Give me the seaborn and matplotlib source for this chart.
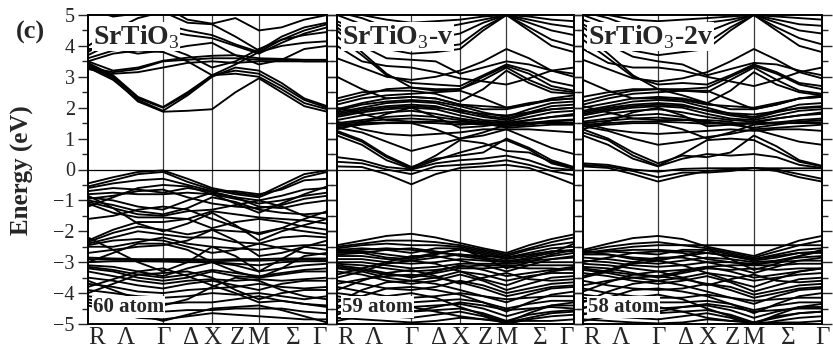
import numpy as np
import pandas as pd
import matplotlib
matplotlib.use("Agg")
import matplotlib.pyplot as plt
from matplotlib.ticker import MultipleLocator
import seaborn as sns

sns.set_style("ticks")
plt.rcParams["font.family"] = ["Liberation Serif", "DejaVu Serif"]
plt.rcParams["mathtext.fontset"] = "custom"
plt.rcParams["mathtext.rm"] = "Liberation Serif"
plt.rcParams["mathtext.bf"] = "Liberation Serif:bold"

# k-path sample positions: R, Λ1, Λ2, Γ, Δ, X, Z, M, Σ1, Σ2, Γ
k_points = [0.0, 0.105, 0.209, 0.314, 0.4165, 0.519, 0.617, 0.715, 0.810, 0.905, 1.0]
k_ticks = [0.0, 0.157, 0.314, 0.43, 0.519, 0.625, 0.715, 0.8575, 1.0]
k_labels = ["R", "Λ", "Γ", "Δ", "X", "Z", "M", "Σ", "Γ"]
sym_lines = [0.314, 0.519, 0.715]

panel_titles = ["SrTiO$_3$", "SrTiO$_3$-v", "SrTiO$_3$-2v"]
panel_atoms = ["60 atom", "59 atom", "58 atom"]

# ---------------- Panel 1: SrTiO3 (60 atom) ----------------
p1_cb = [
    [3.35, 2.95, 2.20, 1.87, 1.90, 1.95, 2.50, 2.95, 2.50, 2.05, 1.87],
    [3.40, 3.00, 2.30, 2.00, 2.45, 3.05, 3.10, 3.00, 2.60, 2.15, 1.95],
    [3.45, 3.05, 2.35, 2.02, 2.50, 3.05, 3.20, 3.10, 2.70, 2.25, 2.00],
    [3.30, 2.90, 2.25, 1.90, 2.40, 3.00, 3.30, 3.20, 2.80, 2.30, 2.05],
    [3.30, 3.15, 3.25, 3.50, 3.55, 3.60, 3.60, 3.55, 3.55, 3.50, 3.50],
    [3.50, 3.20, 3.30, 3.52, 3.62, 3.68, 3.70, 3.60, 3.58, 3.55, 3.55],
    [3.50, 3.75, 3.85, 3.80, 3.50, 3.05, 3.40, 3.80, 4.00, 4.10, 4.15],
    [3.60, 3.85, 3.95, 4.00, 3.70, 3.30, 3.50, 3.90, 4.20, 4.35, 4.45],
    [3.70, 4.10, 4.40, 4.50, 4.35, 4.25, 4.00, 3.75, 4.10, 4.40, 4.60],
    [3.80, 4.30, 4.60, 4.70, 4.50, 4.35, 4.05, 3.80, 4.20, 4.50, 4.70],
    [4.00, 4.50, 4.90, 5.10, 4.75, 4.70, 4.30, 3.85, 4.30, 4.60, 4.75],
    [3.25, 3.10, 3.15, 3.30, 3.45, 3.50, 3.45, 3.50, 3.50, 3.50, 3.50],
    [5.20, 4.95, 5.05, 5.30, 4.85, 4.72, 4.90, 4.50, 4.60, 4.85, 5.00],
    [3.90, 3.90, 3.75, 3.85, 4.00, 4.10, 3.70, 3.40, 3.55, 3.90, 4.00],
]
p1_vb = [
    [-0.45, -0.25, -0.08, -0.03, -0.30, -0.60, -0.75, -0.85, -0.50, -0.15, -0.03],
    [-0.55, -0.35, -0.15, -0.08, -0.40, -0.65, -0.80, -0.90, -0.60, -0.25, -0.08],
    [-0.60, -0.45, -0.35, -0.30, -0.50, -0.70, -0.70, -0.80, -0.65, -0.35, -0.30],
    [-0.70, -0.60, -0.65, -0.75, -0.60, -0.72, -0.90, -1.00, -0.85, -0.65, -0.60],
    [-0.80, -0.75, -0.80, -0.80, -0.75, -0.80, -0.95, -1.10, -1.00, -0.85, -0.75],
    [-0.90, -1.00, -1.20, -1.30, -1.00, -0.75, -0.90, -1.20, -1.25, -1.10, -1.00],
    [-1.00, -1.15, -1.35, -1.45, -1.25, -0.90, -1.05, -1.30, -1.40, -1.45, -1.40],
    [-1.05, -1.25, -1.45, -1.50, -1.35, -1.30, -1.15, -1.00, -1.20, -1.50, -1.60],
    [-1.10, -1.40, -1.55, -1.55, -1.60, -1.35, -1.45, -1.55, -1.60, -1.65, -1.75],
    [-2.30, -1.95, -1.70, -1.70, -1.60, -1.90, -1.70, -1.60, -1.70, -1.85, -1.95],
    [-2.35, -2.05, -1.85, -1.95, -2.10, -1.95, -2.00, -2.05, -1.90, -2.00, -2.10],
    [-2.40, -2.20, -2.00, -2.10, -2.20, -2.20, -2.35, -2.40, -2.20, -2.15, -2.20],
    [-2.50, -2.50, -2.35, -2.20, -2.40, -2.50, -2.55, -2.60, -2.50, -2.45, -2.45],
    [-2.70, -2.60, -2.50, -2.45, -2.30, -1.95, -2.30, -2.80, -2.70, -2.50, -2.60],
    [-2.85, -2.88, -2.90, -2.90, -2.90, -2.92, -2.90, -2.90, -2.88, -2.88, -2.88],
    [-2.90, -2.92, -2.93, -2.95, -2.95, -2.97, -2.95, -2.95, -2.93, -2.92, -2.93],
    [-3.00, -2.97, -2.97, -2.98, -3.00, -3.00, -3.05, -3.10, -3.00, -2.97, -2.97],
    [-3.10, -3.15, -3.30, -3.45, -3.20, -3.00, -3.10, -3.30, -3.20, -3.10, -3.05],
    [-3.20, -3.30, -3.50, -3.60, -3.50, -3.30, -3.45, -3.50, -3.40, -3.30, -3.30],
    [-3.30, -3.45, -3.60, -3.70, -3.60, -3.55, -3.60, -3.55, -3.60, -3.55, -3.50],
    [-3.50, -3.60, -3.75, -3.85, -3.70, -3.60, -3.75, -3.90, -3.70, -3.60, -3.60],
    [-3.70, -3.80, -3.95, -4.00, -3.90, -3.85, -3.80, -3.70, -3.80, -3.85, -3.80],
    [-3.90, -4.00, -4.10, -4.15, -4.10, -4.00, -4.05, -4.00, -4.10, -4.20, -4.10],
    [-4.10, -4.20, -4.30, -4.35, -4.30, -4.30, -4.20, -4.10, -4.25, -4.35, -4.40],
    [-4.20, -4.40, -4.70, -4.90, -4.70, -4.50, -4.45, -4.40, -4.55, -4.75, -4.95],
    [-4.30, -4.50, -4.60, -4.60, -4.55, -4.55, -4.50, -4.50, -4.50, -4.60, -4.65],
    [-2.20, -2.60, -3.00, -3.30, -3.00, -2.50, -2.80, -3.30, -2.90, -2.50, -2.30],
    [-0.85, -1.25, -1.75, -2.00, -1.75, -1.40, -1.80, -2.30, -2.00, -1.80, -1.60],
    [-3.00, -2.70, -2.40, -2.40, -2.60, -3.00, -3.30, -3.50, -3.20, -2.80, -2.70],
    [-1.20, -0.90, -0.60, -0.50, -0.55, -0.80, -1.10, -1.40, -1.10, -0.80, -0.55],
    [-3.60, -3.90, -4.20, -4.40, -4.20, -3.80, -3.50, -3.60, -3.90, -4.10, -4.20],
    [-4.00, -3.70, -3.40, -3.35, -3.30, -3.50, -3.90, -4.20, -4.00, -3.90, -3.90],
    [-0.95, -0.85, -0.70, -0.65, -0.90, -1.10, -1.20, -1.25, -1.15, -0.95, -0.85],
    [-1.60, -1.50, -1.30, -1.20, -1.30, -1.60, -1.85, -2.10, -1.90, -1.60, -1.35],
    [-2.45, -2.30, -2.25, -2.30, -2.50, -2.70, -2.60, -2.40, -2.55, -2.70, -2.75],
    [-3.15, -3.25, -3.40, -3.50, -3.40, -3.25, -3.35, -3.45, -3.35, -3.25, -3.20],
    [-3.80, -3.55, -3.30, -3.20, -3.45, -3.75, -4.00, -4.30, -4.25, -4.35, -4.45],
    [-4.40, -4.60, -4.80, -4.85, -4.75, -4.65, -4.70, -4.75, -4.80, -4.85, -4.85],
]

# ---------------- Panel 2: SrTiO3-v (59 atom) ----------------
p2_cb = [
    [0.10, 0.08, -0.15, -0.48, -0.15, 0.05, 0.10, 0.15, 0.05, -0.20, -0.48],
    [0.25, 0.20, 0.00, -0.15, 0.10, 0.15, 0.20, 0.30, 0.15, -0.05, -0.18],
    [0.40, 0.30, 0.08, 0.00, 0.20, 0.30, 0.35, 0.45, 0.30, 0.05, -0.02],
    [1.10, 0.80, 0.30, 0.02, 0.30, 0.55, 0.75, 0.95, 0.65, 0.20, 0.02],
    [1.20, 0.90, 0.40, 0.05, 0.45, 0.95, 0.85, 0.60, 0.55, 0.25, 0.05],
    [1.25, 0.95, 0.45, 0.08, 0.35, 0.45, 0.55, 1.00, 0.70, 0.30, 0.08],
    [1.35, 1.20, 0.90, 0.60, 0.80, 1.00, 1.10, 1.30, 1.00, 0.70, 0.50],
    [1.35, 1.45, 1.50, 1.50, 1.30, 1.00, 1.20, 1.45, 1.50, 1.50, 1.50],
    [1.40, 1.50, 1.52, 1.52, 1.50, 1.45, 1.50, 1.52, 1.52, 1.52, 1.52],
    [1.50, 1.60, 1.70, 1.75, 1.70, 1.60, 1.50, 1.40, 1.45, 1.55, 1.60],
    [1.60, 1.75, 1.85, 1.90, 1.80, 1.65, 1.55, 1.50, 1.60, 1.70, 1.75],
    [1.70, 1.85, 1.95, 2.00, 1.95, 1.75, 1.60, 1.55, 1.70, 1.85, 1.90],
    [1.80, 1.95, 2.05, 2.10, 2.05, 1.85, 1.70, 1.60, 1.80, 1.95, 2.00],
    [1.85, 2.00, 2.15, 2.20, 2.15, 1.95, 1.75, 1.65, 1.85, 2.05, 2.10],
    [1.90, 2.10, 2.20, 2.25, 2.20, 2.05, 1.85, 1.70, 1.95, 2.15, 2.20],
    [1.95, 2.15, 2.30, 2.35, 2.30, 2.10, 1.95, 1.95, 2.10, 2.25, 2.30],
    [1.30, 1.50, 1.80, 2.00, 1.70, 1.35, 1.40, 1.50, 1.60, 1.70, 1.80],
    [2.00, 1.80, 1.60, 1.55, 1.55, 1.55, 1.50, 1.35, 1.40, 1.45, 1.45],
    [1.55, 1.30, 1.15, 1.10, 1.15, 1.20, 1.30, 1.30, 1.30, 1.25, 1.20],
    [2.10, 2.30, 2.40, 2.45, 2.50, 2.55, 2.30, 2.00, 2.10, 2.30, 2.40],
    [2.20, 2.40, 2.60, 2.65, 2.60, 2.60, 2.90, 3.30, 2.90, 2.60, 2.50],
    [2.30, 2.50, 2.55, 2.55, 2.45, 2.20, 2.60, 3.20, 2.80, 2.50, 2.45],
    [4.50, 3.80, 3.10, 2.65, 2.55, 2.60, 3.00, 3.35, 3.10, 2.70, 2.55],
    [4.30, 3.70, 3.05, 2.80, 2.75, 2.70, 3.05, 3.40, 3.20, 2.85, 2.70],
    [4.60, 4.00, 3.60, 3.55, 3.50, 3.10, 3.30, 3.50, 3.40, 3.20, 3.10],
    [4.70, 4.30, 3.90, 3.75, 3.80, 3.90, 4.50, 5.00, 4.50, 4.00, 3.80],
    [4.80, 4.45, 4.10, 3.90, 3.95, 4.05, 4.60, 5.00, 4.60, 4.20, 4.00],
    [5.00, 4.70, 4.35, 4.20, 4.25, 4.40, 4.75, 5.00, 4.75, 4.50, 4.35],
    [5.10, 4.90, 4.60, 4.45, 4.55, 4.70, 4.85, 5.00, 4.85, 4.70, 4.60],
    [5.20, 5.00, 4.85, 4.75, 4.80, 4.85, 4.95, 5.00, 4.95, 4.85, 4.80],
    [4.00, 3.50, 3.35, 3.30, 3.15, 2.95, 2.85, 2.75, 2.95, 3.20, 3.30],
    [3.00, 2.60, 2.30, 2.35, 2.30, 2.10, 2.05, 2.00, 2.15, 2.25, 2.30],
    [1.45, 1.55, 1.62, 1.65, 1.60, 1.50, 1.45, 1.45, 1.50, 1.58, 1.62],
    [1.75, 1.90, 2.00, 2.05, 2.00, 1.90, 1.80, 1.75, 1.85, 1.95, 2.00],
    [3.60, 3.30, 3.00, 2.90, 3.00, 3.20, 3.50, 3.90, 3.60, 3.20, 3.00],
]
p2_vb = [
    [-2.45, -2.30, -2.15, -2.08, -2.20, -2.38, -2.55, -2.70, -2.45, -2.25, -2.10],
    [-2.50, -2.40, -2.30, -2.30, -2.35, -2.45, -2.60, -2.75, -2.55, -2.35, -2.20],
    [-2.55, -2.45, -2.40, -2.45, -2.45, -2.50, -2.65, -2.80, -2.60, -2.45, -2.35],
    [-2.60, -2.55, -2.60, -2.70, -2.55, -2.55, -2.70, -2.85, -2.70, -2.55, -2.50],
    [-2.70, -2.65, -2.75, -2.85, -2.70, -2.60, -2.75, -2.90, -2.80, -2.65, -2.60],
    [-2.80, -2.80, -2.90, -2.95, -2.85, -2.75, -2.85, -2.95, -2.90, -2.80, -2.70],
    [-2.90, -2.90, -3.00, -3.05, -3.00, -2.90, -2.95, -3.00, -2.95, -2.90, -2.85],
    [-3.00, -3.00, -3.10, -3.20, -3.15, -3.05, -3.05, -3.05, -3.00, -3.00, -3.00],
    [-3.05, -3.10, -3.20, -3.30, -3.25, -3.15, -3.10, -3.10, -3.10, -3.10, -3.10],
    [-3.10, -3.20, -3.35, -3.50, -3.35, -3.20, -3.20, -3.15, -3.20, -3.20, -3.25],
    [-3.20, -3.30, -3.50, -3.60, -3.50, -3.30, -3.40, -3.60, -3.45, -3.35, -3.35],
    [-3.30, -3.40, -3.60, -3.70, -3.60, -3.40, -3.60, -3.90, -3.70, -3.50, -3.45],
    [-2.60, -2.70, -2.85, -2.90, -2.75, -2.55, -2.85, -3.20, -3.00, -2.75, -2.60],
    [-3.50, -3.30, -3.05, -2.95, -3.05, -3.30, -3.55, -3.75, -3.50, -3.30, -3.20],
    [-3.60, -3.70, -3.85, -3.90, -3.80, -3.60, -3.75, -4.00, -3.85, -3.70, -3.65],
    [-4.30, -3.90, -3.65, -3.60, -3.70, -3.90, -4.10, -4.30, -4.05, -3.85, -3.80],
    [-4.50, -4.10, -3.85, -3.80, -3.90, -4.05, -4.30, -4.60, -4.30, -4.05, -3.95],
    [-3.80, -3.95, -4.10, -4.15, -4.10, -4.00, -4.10, -4.20, -4.15, -4.10, -4.10],
    [-4.00, -4.10, -4.25, -4.30, -4.25, -4.20, -4.30, -4.50, -4.35, -4.25, -4.25],
    [-4.20, -4.30, -4.40, -4.45, -4.40, -4.35, -4.50, -4.75, -4.55, -4.40, -4.40],
    [-4.40, -4.50, -4.60, -4.60, -4.55, -4.50, -4.65, -4.90, -4.70, -4.60, -4.55],
    [-4.60, -4.70, -4.75, -4.80, -4.70, -4.60, -4.75, -5.00, -4.85, -4.75, -4.70],
    [-4.80, -4.85, -4.90, -4.95, -4.90, -4.80, -4.85, -4.90, -4.90, -4.90, -4.85],
    [-3.40, -3.20, -3.00, -2.80, -2.80, -2.95, -3.10, -3.30, -3.10, -2.90, -2.80],
    [-2.75, -2.70, -2.60, -2.55, -2.65, -2.80, -2.90, -3.00, -2.85, -2.70, -2.40],
    [-3.90, -3.60, -3.35, -3.25, -3.45, -3.70, -3.50, -3.35, -3.55, -3.60, -3.55],
    [-4.70, -4.40, -4.10, -4.00, -4.15, -4.45, -4.70, -4.95, -4.65, -4.40, -4.30],
    [-2.65, -2.60, -2.55, -2.60, -2.70, -2.75, -2.80, -2.85, -2.75, -2.65, -2.65],
    [-3.15, -3.25, -3.40, -3.45, -3.30, -3.10, -3.25, -3.45, -3.35, -3.25, -3.15],
    [-3.70, -3.55, -3.45, -3.40, -3.50, -3.65, -3.85, -4.10, -3.95, -3.80, -3.75],
    [-4.10, -4.25, -4.50, -4.60, -4.45, -4.30, -4.40, -4.55, -4.50, -4.45, -4.50],
    [-4.90, -4.75, -4.55, -4.45, -4.60, -4.75, -4.85, -4.95, -4.80, -4.65, -4.60],
]

# ---------------- Panel 3: SrTiO3-2v (58 atom) ----------------
p3_cb = [
    [0.10, 0.05, -0.15, -0.39, -0.20, -0.05, 0.00, 0.05, -0.05, -0.25, -0.39],
    [0.15, 0.10, -0.05, -0.25, -0.10, -0.10, -0.05, 0.05, 0.00, -0.15, -0.30],
    [0.20, 0.15, 0.00, -0.07, 0.02, 0.04, 0.04, 0.04, 0.04, 0.04, 0.04],
    [1.10, 0.80, 0.35, 0.10, 0.35, 0.50, 0.45, 0.50, 0.40, 0.15, 0.05],
    [1.20, 0.95, 0.45, 0.12, 0.50, 0.95, 1.00, 0.95, 0.60, 0.25, 0.10],
    [1.30, 1.00, 0.55, 0.20, 0.45, 0.40, 0.55, 1.10, 0.75, 0.30, 0.12],
    [1.40, 1.25, 1.00, 0.80, 0.90, 1.05, 1.15, 1.30, 1.10, 0.90, 0.80],
    [1.40, 1.45, 1.50, 1.50, 1.30, 1.00, 1.20, 1.45, 1.50, 1.50, 1.50],
    [1.45, 1.50, 1.55, 1.55, 1.52, 1.48, 1.50, 1.50, 1.52, 1.52, 1.53],
    [1.55, 1.65, 1.75, 1.80, 1.70, 1.55, 1.45, 1.35, 1.45, 1.55, 1.60],
    [1.65, 1.80, 1.90, 1.95, 1.85, 1.70, 1.60, 1.55, 1.65, 1.75, 1.80],
    [1.75, 1.90, 2.00, 2.05, 2.00, 1.80, 1.65, 1.60, 1.75, 1.90, 1.95],
    [1.85, 2.00, 2.10, 2.15, 2.10, 1.90, 1.75, 1.65, 1.85, 2.00, 2.05],
    [1.90, 2.05, 2.20, 2.25, 2.20, 2.00, 1.80, 1.70, 1.90, 2.10, 2.15],
    [2.00, 2.15, 2.30, 2.35, 2.30, 2.15, 1.95, 1.95, 2.10, 2.30, 2.35],
    [1.30, 1.55, 1.85, 2.00, 1.75, 1.40, 1.45, 1.50, 1.65, 1.75, 1.85],
    [2.05, 1.85, 1.65, 1.60, 1.60, 1.60, 1.55, 1.30, 1.35, 1.40, 1.45],
    [1.50, 1.30, 1.20, 1.15, 1.20, 1.25, 1.30, 1.25, 1.30, 1.30, 1.25],
    [2.10, 2.30, 2.45, 2.50, 2.55, 2.55, 2.25, 1.95, 2.10, 2.30, 2.40],
    [2.20, 2.40, 2.55, 2.60, 2.55, 2.50, 2.90, 3.30, 2.90, 2.55, 2.45],
    [2.35, 2.50, 2.60, 2.60, 2.40, 2.15, 2.55, 3.15, 2.75, 2.50, 2.40],
    [4.40, 3.75, 3.05, 2.60, 2.60, 2.65, 3.00, 3.35, 3.10, 2.75, 2.60],
    [4.20, 3.60, 3.00, 2.75, 2.80, 2.75, 3.05, 3.40, 3.15, 2.80, 2.70],
    [4.60, 4.05, 3.65, 3.50, 3.40, 3.05, 3.25, 3.45, 3.40, 3.20, 3.05],
    [4.70, 4.25, 3.85, 3.70, 3.80, 3.90, 4.50, 5.00, 4.50, 4.00, 3.80],
    [4.85, 4.50, 4.10, 3.90, 4.00, 4.10, 4.60, 5.00, 4.60, 4.25, 4.05],
    [5.00, 4.70, 4.35, 4.20, 4.30, 4.45, 4.75, 5.00, 4.75, 4.50, 4.40],
    [5.10, 4.90, 4.60, 4.50, 4.60, 4.75, 4.85, 5.00, 4.85, 4.70, 4.65],
    [5.20, 5.00, 4.85, 4.80, 4.85, 4.90, 4.95, 5.00, 4.95, 4.90, 4.85],
    [3.90, 3.45, 3.30, 3.30, 3.20, 3.00, 2.85, 2.70, 2.90, 3.15, 3.30],
    [2.90, 2.55, 2.30, 2.30, 2.25, 2.10, 2.05, 2.00, 2.15, 2.30, 2.35],
    [1.50, 1.58, 1.65, 1.68, 1.62, 1.52, 1.48, 1.48, 1.52, 1.60, 1.65],
    [1.80, 1.95, 2.05, 2.10, 2.05, 1.92, 1.82, 1.78, 1.88, 1.98, 2.02],
    [3.55, 3.25, 2.95, 2.85, 2.95, 3.15, 3.50, 3.90, 3.55, 3.15, 2.95],
]
p3_vb = [
    [-2.60, -2.40, -2.22, -2.15, -2.25, -2.50, -2.65, -2.80, -2.55, -2.30, -2.15],
    [-2.70, -2.60, -2.50, -2.45, -2.45, -2.45, -2.45, -2.45, -2.45, -2.45, -2.45],
    [-2.65, -2.50, -2.40, -2.35, -2.45, -2.55, -2.70, -2.85, -2.65, -2.45, -2.30],
    [-2.70, -2.65, -2.70, -2.75, -2.60, -2.60, -2.75, -2.90, -2.75, -2.60, -2.55],
    [-2.75, -2.75, -2.85, -2.90, -2.80, -2.70, -2.80, -2.95, -2.85, -2.70, -2.65],
    [-2.85, -2.90, -3.00, -3.05, -2.95, -2.85, -2.90, -3.00, -2.95, -2.85, -2.80],
    [-2.95, -3.00, -3.10, -3.15, -3.10, -3.00, -3.00, -3.05, -3.00, -2.95, -2.95],
    [-3.05, -3.10, -3.20, -3.30, -3.25, -3.15, -3.10, -3.10, -3.10, -3.05, -3.05],
    [-3.15, -3.20, -3.35, -3.50, -3.35, -3.20, -3.25, -3.20, -3.25, -3.20, -3.20],
    [-3.25, -3.35, -3.50, -3.60, -3.50, -3.35, -3.45, -3.60, -3.50, -3.40, -3.35],
    [-3.35, -3.45, -3.60, -3.70, -3.60, -3.45, -3.65, -3.95, -3.75, -3.55, -3.50],
    [-2.65, -2.75, -2.90, -2.95, -2.80, -2.60, -2.90, -3.25, -3.05, -2.80, -2.65],
    [-3.50, -3.30, -3.05, -2.95, -3.10, -3.35, -3.60, -3.80, -3.55, -3.30, -3.20],
    [-3.60, -3.75, -3.85, -3.90, -3.85, -3.70, -3.80, -4.05, -3.90, -3.75, -3.70],
    [-4.30, -3.95, -3.70, -3.60, -3.75, -3.95, -4.15, -4.35, -4.10, -3.90, -3.85],
    [-4.50, -4.15, -3.90, -3.85, -3.95, -4.10, -4.35, -4.65, -4.35, -4.10, -4.00],
    [-3.85, -4.00, -4.10, -4.15, -4.15, -4.05, -4.15, -4.25, -4.20, -4.15, -4.15],
    [-4.05, -4.15, -4.25, -4.30, -4.30, -4.25, -4.35, -4.55, -4.40, -4.30, -4.30],
    [-4.25, -4.35, -4.45, -4.50, -4.45, -4.40, -4.55, -4.80, -4.60, -4.45, -4.45],
    [-4.45, -4.55, -4.65, -4.65, -4.60, -4.55, -4.70, -4.95, -4.75, -4.65, -4.60],
    [-4.65, -4.75, -4.80, -4.85, -4.75, -4.65, -4.80, -5.05, -4.90, -4.80, -4.75],
    [-4.85, -4.90, -4.95, -4.98, -4.95, -4.85, -4.90, -4.95, -4.95, -4.95, -4.90],
    [-3.45, -3.25, -3.00, -2.85, -2.85, -3.00, -3.15, -3.35, -3.15, -2.95, -2.85],
    [-3.95, -3.65, -3.40, -3.30, -3.50, -3.75, -3.55, -3.40, -3.60, -3.65, -3.60],
    [-4.70, -4.45, -4.15, -4.05, -4.20, -4.50, -4.75, -5.00, -4.70, -4.45, -4.35],
    [-3.00, -2.85, -2.70, -2.65, -2.70, -2.90, -3.00, -3.10, -2.95, -2.80, -2.60],
    [-2.70, -2.65, -2.60, -2.60, -2.65, -2.70, -2.80, -2.90, -2.80, -2.70, -2.70],
    [-3.20, -3.30, -3.40, -3.45, -3.30, -3.15, -3.30, -3.50, -3.40, -3.30, -3.20],
    [-3.75, -3.60, -3.50, -3.45, -3.55, -3.70, -3.90, -4.15, -4.00, -3.85, -3.80],
    [-4.15, -4.30, -4.50, -4.60, -4.45, -4.35, -4.45, -4.60, -4.55, -4.50, -4.50],
    [-4.90, -4.75, -4.55, -4.45, -4.60, -4.80, -4.90, -4.95, -4.80, -4.65, -4.60],
]

panels_bands = [p1_cb + p1_vb, p2_cb + p2_vb, p3_cb + p3_vb]


def to_frame(bands):
    rows = []
    for b, energies in enumerate(bands):
        for k, e in zip(k_points, energies):
            rows.append({"k": k, "E": e, "band": b})
    return pd.DataFrame(rows)


fig = plt.figure(figsize=(8.33, 3.53), dpi=100)
W, H = 833.0, 353.0
bottom = 1 - 324 / H
height = (324 - 15) / H
lefts = [88, 337, 583]
rights = [327, 574, 822]

for i in range(3):
    ax = fig.add_axes([lefts[i] / W, bottom, (rights[i] - lefts[i]) / W, height])
    df = to_frame(panels_bands[i])
    sns.lineplot(data=df, x="k", y="E", units="band", estimator=None,
                 color="black", lw=1.35, ax=ax, legend=False, sort=False)
    for xv in sym_lines:
        ax.axvline(xv, color="#3a3a3a", lw=0.9, zorder=1)
    ax.axhline(0, color="black", lw=0.9, zorder=1)
    ax.set_xlim(0, 1)
    ax.set_ylim(-5, 5)
    ax.set_xlabel("")
    ax.set_ylabel("")
    ax.set_xticks(k_ticks)
    ax.set_xticklabels(k_labels, fontsize=18)
    xt = ax.get_xticklabels()
    xt[0].set_horizontalalignment("left")
    if i < 2:
        xt[-1].set_horizontalalignment("right")
    ax.tick_params(axis="x", length=0, pad=2)
    ax.yaxis.set_major_locator(MultipleLocator(1))
    ax.yaxis.set_minor_locator(MultipleLocator(0.5))
    ax.tick_params(axis="y", which="major", direction="out", length=7.5,
                   width=1.0, left=True, right=True, labelsize=14.5, pad=2)
    ax.tick_params(axis="y", which="minor", direction="out", length=4.5,
                   width=1.0, left=True, right=True)
    if i > 0:
        ax.tick_params(axis="y", labelleft=False)
    for sp in ax.spines.values():
        sp.set_linewidth(1.4)
        sp.set_color("black")
    ax.text(0.02, 0.93, panel_titles[i], transform=ax.transAxes, fontsize=20,
            fontweight="bold", va="center", ha="left", zorder=5,
            bbox=dict(facecolor="white", edgecolor="none", pad=0.5))
    ax.text(0.02, 0.055, panel_atoms[i], transform=ax.transAxes, fontsize=15,
            fontweight="bold", va="center", ha="left", zorder=5,
            bbox=dict(facecolor="white", edgecolor="none", pad=0.5))

fig.text(30 / W, 1 - 32 / H, "(c)", fontsize=19, fontweight="bold",
         ha="center", va="center")
fig.text(22 / W, 1 - 170 / H, "Energy (eV)", fontsize=18, fontweight="bold",
         rotation=90, ha="center", va="center")

fig.savefig("out.png", dpi=100)
